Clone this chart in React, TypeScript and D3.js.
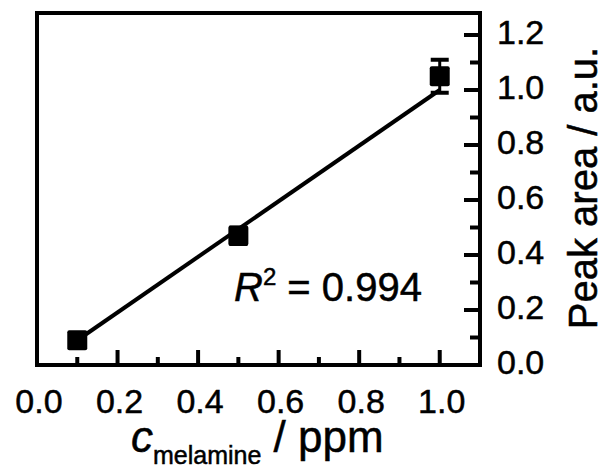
import React, { useRef, useEffect } from 'react';
import * as d3 from 'd3';

// measured data: melamine concentration (ppm) vs. peak area (a.u.)
const concentrations = [0.1, 0.5, 1.0];
const peakAreas = [0.09, 0.47, 1.05];
const peakErrors = [0.02, 0.03, 0.06];

// linear fit line endpoints
const fitX = [0.1, 1.0];
const fitY = [0.09, 1.0];

const xTicks = [0.0, 0.2, 0.4, 0.6, 0.8, 1.0];
const xMinorTicks = [0.1, 0.3, 0.5, 0.7, 0.9];
const yTicks = [0.0, 0.2, 0.4, 0.6, 0.8, 1.0, 1.2];
const yMinorTicks = [0.1, 0.3, 0.5, 0.7, 0.9, 1.1];

const FONT = '"Liberation Sans", Arial, Helvetica, sans-serif';

const App = () => {
  const svgRef = useRef<SVGSVGElement>(null);

  useEffect(() => {
    const width = 604;
    const height = 469;

    const svg = d3.select(svgRef.current)
      .attr('width', width)
      .attr('height', height);

    svg.selectAll('*').remove();

    const x = d3.scaleLinear().domain([0, 1.1]).range([37, 480]);
    const y = d3.scaleLinear().domain([0, 1.28]).range([365, 13]);

    // all text slightly heavier, like the scanned figure
    const styleText = (sel, size) => sel
      .style('font-family', FONT)
      .style('font-size', size)
      .attr('stroke', '#000')
      .attr('stroke-width', 0.5);

    // plot frame
    svg.append('rect')
      .attr('x', x(0))
      .attr('y', y(1.28))
      .attr('width', x(1.1) - x(0))
      .attr('height', y(0) - y(1.28))
      .attr('fill', 'none')
      .attr('stroke', '#000')
      .attr('stroke-width', 4);

    // x ticks (bottom, pointing inward)
    svg.selectAll('.xtick')
      .data(xTicks.filter(d => d > 0))
      .enter()
      .append('line')
      .attr('x1', d => x(d))
      .attr('x2', d => x(d))
      .attr('y1', y(0))
      .attr('y2', y(0) - 15)
      .attr('stroke', '#000')
      .attr('stroke-width', 4);

    svg.selectAll('.xminor')
      .data(xMinorTicks)
      .enter()
      .append('line')
      .attr('x1', d => x(d))
      .attr('x2', d => x(d))
      .attr('y1', y(0))
      .attr('y2', y(0) - 8)
      .attr('stroke', '#000')
      .attr('stroke-width', 4);

    styleText(svg.selectAll('.xlabel')
      .data(xTicks)
      .enter()
      .append('text')
      .attr('x', d => x(d) + 2)
      .attr('y', 413)
      .attr('text-anchor', 'middle'), '34px')
      .text(d => d.toFixed(1));

    // y ticks (right side, pointing inward)
    svg.selectAll('.ytick')
      .data(yTicks.filter(d => d > 0))
      .enter()
      .append('line')
      .attr('x1', x(1.1))
      .attr('x2', x(1.1) - 16)
      .attr('y1', d => y(d))
      .attr('y2', d => y(d))
      .attr('stroke', '#000')
      .attr('stroke-width', 4);

    svg.selectAll('.yminor')
      .data(yMinorTicks)
      .enter()
      .append('line')
      .attr('x1', x(1.1))
      .attr('x2', x(1.1) - 10)
      .attr('y1', d => y(d))
      .attr('y2', d => y(d))
      .attr('stroke', '#000')
      .attr('stroke-width', 4);

    styleText(svg.selectAll('.ylabel')
      .data(yTicks)
      .enter()
      .append('text')
      .attr('x', 497)
      .attr('y', d => y(d) + 9)
      .attr('text-anchor', 'start'), '34px')
      .text(d => d.toFixed(1));

    // fit line
    const line = d3.line<number>()
      .x((d, i) => x(fitX[i]))
      .y(d => y(d));

    svg.append('path')
      .datum(fitY)
      .attr('d', line)
      .attr('fill', 'none')
      .attr('stroke', '#000')
      .attr('stroke-width', 4);

    // error bars
    const points = concentrations.map((c, i) => ({ c, v: peakAreas[i], e: peakErrors[i] }));
    const errs = svg.selectAll('.err')
      .data(points)
      .enter()
      .append('g');

    errs.append('line')
      .attr('x1', d => x(d.c))
      .attr('x2', d => x(d.c))
      .attr('y1', d => y(d.v + d.e))
      .attr('y2', d => y(d.v - d.e))
      .attr('stroke', '#000')
      .attr('stroke-width', 3);

    errs.selectAll('.cap')
      .data(d => [d.v + d.e, d.v - d.e].map(v => ({ c: d.c, v })))
      .enter()
      .append('line')
      .attr('x1', d => x(d.c) - 9)
      .attr('x2', d => x(d.c) + 9)
      .attr('y1', d => y(d.v))
      .attr('y2', d => y(d.v))
      .attr('stroke', '#000')
      .attr('stroke-width', 4);

    // square markers
    svg.selectAll('.pt')
      .data(points)
      .enter()
      .append('rect')
      .attr('x', d => x(d.c) - 10)
      .attr('y', d => y(d.v) - 10)
      .attr('width', 20)
      .attr('height', 20)
      .attr('rx', 2)
      .attr('fill', '#000');

    // R² annotation
    const r2 = styleText(svg.append('text')
      .attr('x', 234)
      .attr('y', 301), '40px');
    r2.append('tspan').style('font-style', 'italic').text('R');
    r2.append('tspan').attr('dy', -16).style('font-size', '24px').text('2');
    r2.append('tspan').attr('dy', 16).text(' = 0.994');

    // x axis title
    const xt = styleText(svg.append('text')
      .attr('x', 131)
      .attr('y', 452), '44px');
    xt.append('tspan').style('font-style', 'italic').text('c');
    xt.append('tspan').attr('dy', 12).style('font-size', '25px').text('melamine');
    xt.append('tspan').attr('dy', -12).text(' / ppm');

    // y axis title
    styleText(svg.append('text')
      .attr('transform', 'translate(597,188) rotate(-90)')
      .attr('text-anchor', 'middle'), '40px')
      .text('Peak area / a.u.');
  }, []);

  return <svg ref={svgRef} style={{ position: 'absolute', left: 0, top: 0 }}></svg>;
};

export default App;
